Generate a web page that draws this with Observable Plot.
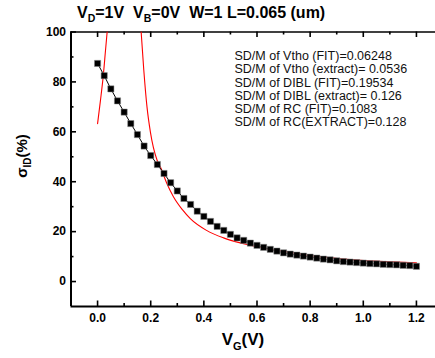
<!DOCTYPE html>
<html><head><meta charset="utf-8">
<script src="https://cdn.jsdelivr.net/npm/d3@7"></script>
<script src="https://cdn.jsdelivr.net/npm/@observablehq/plot@0.6"></script>
<style>body{margin:0;background:#fff}svg{display:block}</style>
</head><body><div id="chart"></div>
<script>
// measured sigma_ID (%) vs V_G (V)
const vg = [0,0.025,0.05,0.075,0.1,0.125,0.15,0.175,0.2,0.225,0.25,0.275,0.3,0.325,0.35,0.375,0.4,0.425,0.45,0.475,0.5,0.525,0.55,0.575,0.6,0.625,0.65,0.675,0.7,0.725,0.75,0.775,0.8,0.825,0.85,0.875,0.9,0.925,0.95,0.975,1.0,1.025,1.05,1.075,1.1,1.125,1.15,1.175,1.2];
const sigma = [87.4,82.5,77.2,72.4,67.9,63.3,58.9,54.3,50.5,46.9,43.3,39.6,36.3,33.3,30.9,28.2,26.1,24.1,22.1,20.5,18.9,17.5,16.5,15.4,14.5,13.7,12.9,12.2,11.5,11.0,10.6,10.2,9.8,9.4,9.0,8.7,8.3,8.0,7.8,7.6,7.4,7.2,7.1,6.9,6.8,6.7,6.5,6.4,6.1];
// fitted curve (two branches)
const fitVgLow = [0,0.011,0.021,0.03,0.036];
const fitSigmaLow = [63.3,72.7,82,92.8,100];
const fitVgHigh = [0.164,0.174,0.186,0.199,0.224,0.239,0.26,0.286,0.32,0.349,0.41,0.474,0.537,0.574,0.637,0.7,0.76,0.824,0.95,1.08,1.2];
const fitSigmaHigh = [100,84.7,70,59.8,48.6,45.3,39.5,33.9,28.7,25.2,20.5,17.5,15.5,14.6,13.2,12.1,11.1,10.1,8.8,8.0,7.5];
const xMajor = [0,0.2,0.4,0.6,0.8,1.0,1.2];
const xMinor = [0.1,0.3,0.5,0.7,0.9,1.1];
const yMajor = [0,20,40,60,80,100];
const yMinor = [10,30,50,70,90];
const notes = [
  "SD/M of Vtho (FIT)=0.06248",
  "SD/M of Vtho (extract)= 0.0536",
  "SD/M of DIBL (FIT)=0.19534",
  "SD/M of DIBL (extract)= 0.126",
  "SD/M of RC (FIT)=0.1083",
  "SD/M of RC(EXTRACT)=0.128"
];

const measured = vg.map((x, i) => ({x, y: sigma[i]}));
const fitLow = fitVgLow.map((x, i) => ({x, y: fitSigmaLow[i]}));
const fitHigh = fitVgHigh.map((x, i) => ({x, y: fitSigmaHigh[i]}));
const font = '"Liberation Sans", Arial, Helvetica, sans-serif';

const W = 435, H = 358, mL = 70.5, mR = -7.5, mT = 31.5, mB = 52;
const frameW = W - mL - mR, frameH = H - mT - mB;
const xDom = [-0.1, 1.3], yDom = [-10, 100];
// inward ticks: full-span rules inset down to a short stub
const tickX = (arr, len, side) => Plot.ruleX(arr, {x: d => d, y1: yDom[1], y2: yDom[0], strokeWidth: 1.6,
  insetTop: side === "bottom" ? frameH - len : 0, insetBottom: side === "top" ? frameH - len : 0});
const tickY = (arr, len) => Plot.ruleY(arr, {y: d => d, x1: xDom[0], x2: xDom[1], strokeWidth: 1.6, insetRight: frameW - len});

const chart = Plot.plot({
  width: W, height: H,
  marginLeft: mL, marginRight: mR, marginTop: mT, marginBottom: mB,
  style: {fontFamily: font, fontWeight: "bold", fontSize: "12px", background: "#fff", color: "#000", overflow: "visible"},
  x: {domain: xDom, label: null},
  y: {domain: yDom, label: null},
  marks: [
    // tick labels
    Plot.axisX(xMajor, {anchor: "bottom", tickSize: 0, tickPadding: 7, tickFormat: d3.format(".1f"), fontSize: 12, fontWeight: "bold", label: null}),
    Plot.axisY(yMajor, {anchor: "left", tickSize: 0, tickPadding: 5, fontSize: 12, fontWeight: "bold", label: null}),
    // tick marks
    tickX(xMajor, 5.5, "bottom"), tickX(xMinor, 3, "bottom"),
    tickX(xMajor, 5.5, "top"), tickX(xMinor, 3, "top"),
    tickY(yMajor, 5.5), tickY(yMinor, 3),
    // frame lines
    Plot.ruleY([yDom[0]], {strokeWidth: 2}),
    Plot.ruleY([yDom[1]], {strokeWidth: 1.6}),
    Plot.ruleX([xDom[0]], {strokeWidth: 2}),
    // data
    Plot.line(fitLow, {x: "x", y: "y", stroke: "#ff0000", strokeWidth: 1.1, curve: "monotone-x"}),
    Plot.line(fitHigh, {x: "x", y: "y", stroke: "#ff0000", strokeWidth: 1.1, curve: "monotone-x"}),
    Plot.line(measured, {x: "x", y: "y", stroke: "#000", strokeWidth: 1}),
    Plot.dot(measured, {x: "x", y: "y", symbol: "square", r: 3.5, fill: "#000", stroke: "#888", strokeWidth: 0.5}),
    Plot.text([notes.join("\n")], {frameAnchor: "top-left", textAnchor: "start", lineAnchor: "top", dx: 163.5, dy: 19, lineHeight: 1.05, fontSize: 12.5, fontWeight: "normal", fill: "#111"})
  ]
});
document.getElementById("chart").appendChild(chart);

const svg = d3.select(chart);
svg.selectAll('g[aria-label*="tick label"] text').attr("font-weight", "bold");

// title
const t = svg.append("text").attr("x", 77).attr("y", 18).attr("text-anchor", "start")
  .attr("font-size", 16).attr("font-weight", "bold").attr("fill", "#000")
  .style("white-space", "pre");
const parts = [["V", 0], ["D", 1], ["=1V  V", 0], ["B", 1], ["=0V  W=1 L=0.065 (um)", 0]];
let prev = 0;
parts.forEach(([s, sub]) => {
  const ts = t.append("tspan").text(s);
  if (sub) { ts.attr("font-size", 10.5).attr("dy", 4); prev = 1; }
  else if (prev) { ts.attr("dy", -4); prev = 0; }
});
// x label
const xl = svg.append("text").attr("x", 243).attr("y", 345).attr("text-anchor", "middle")
  .attr("font-size", 17).attr("font-weight", "bold").attr("fill", "#000");
xl.append("tspan").text("V");
xl.append("tspan").text("G").attr("font-size", 11).attr("dy", 5);
xl.append("tspan").text("(V)").attr("dy", -5);
// y label
const yl = svg.append("text").attr("transform", "translate(27,156) rotate(-90)").attr("text-anchor", "middle")
  .attr("font-size", 15).attr("font-weight", "bold").attr("fill", "#000");
yl.append("tspan").text("σ");
yl.append("tspan").text("ID").attr("font-size", 10).attr("dy", 4);
yl.append("tspan").text("(%)").attr("dy", -4);
</script>
</body></html>
